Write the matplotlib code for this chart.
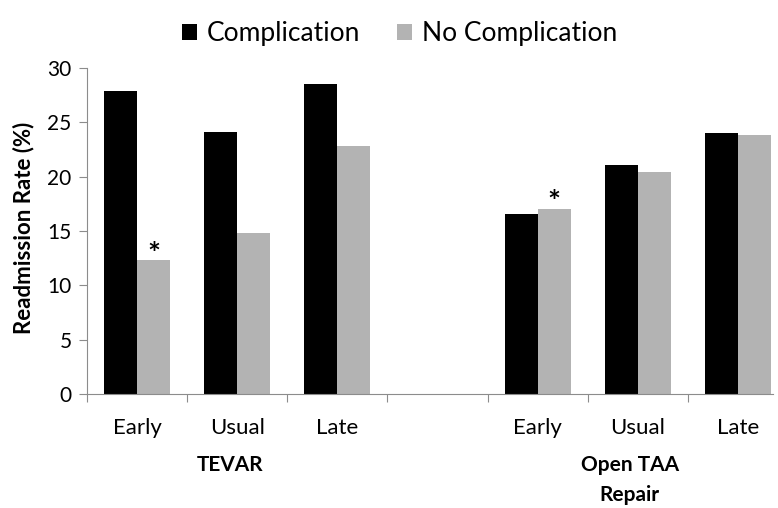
import numpy as np
import matplotlib.pyplot as plt

plt.rcParams['font.family'] = ['Lato', 'DejaVu Sans']

# data
timing = ['Early', 'Usual', 'Late', '', 'Early', 'Usual', 'Late']
groups = ['TEVAR', 'Open TAA\nRepair']
group_x = [0.93, 4.92]
complication = [27.9, 24.1, 28.5, np.nan, 16.6, 21.1, 24.0]
no_complication = [12.3, 14.8, 22.8, np.nan, 17.0, 20.4, 23.8]
starred = [0, 4]   # significant differences

x = np.arange(len(timing))
w = 0.33
axcol = '#8c8c8c'

fig = plt.figure(figsize=(7.78, 5.08), dpi=100)
ax = fig.add_axes([0.1118, 0.2244, 0.8818, 0.6416])

ax.bar(x - w / 2, complication, width=w, color='black', label='Complication')
ax.bar(x + w / 2, no_complication, width=w, color='#b3b3b3', label='No Complication')

for i in starred:
    ax.text(x[i] + w / 2, no_complication[i] - 0.75, '*', ha='center', va='bottom',
            fontsize=22, fontweight='bold')

ax.set_ylim(0, 30)
ax.set_yticks(range(0, 31, 5))
ax.set_xlim(-0.5, 6.35)

# ticks on category boundaries, labels in the middle
ax.set_xticks(np.arange(-0.5, 6.0, 1.0))
ax.set_xticklabels([])
ax.set_xticks(x, minor=True)
ax.set_xticklabels(timing, minor=True)
ax.tick_params(axis='x', which='minor', length=0, pad=17, labelsize=16)
ax.tick_params(axis='x', which='major', direction='out', length=6, color=axcol)
ax.tick_params(axis='y', direction='out', length=6, color=axcol, labelsize=15, pad=5)

for s in ['top', 'right']:
    ax.spines[s].set_visible(False)
for s in ['left', 'bottom']:
    ax.spines[s].set_color(axcol)

fig.text(24 / 778, 1 - 228 / 508, 'Readmission Rate (%)', rotation=90, ha='center',
         va='center', fontsize=16, fontweight='bold')

# group names under the timing labels
for gx, name in zip(group_x, groups):
    for k, line in enumerate(name.split('\n')):
        ax.text(gx, -7.06 - 2.8 * k, line, ha='center', va='baseline', fontsize=15,
                fontweight='bold', clip_on=False)

fig.legend(loc='upper center', bbox_to_anchor=(0.514, 1.005), ncol=2, frameon=False,
           fontsize=19, handlelength=0.57, handleheight=0.57, handletextpad=0.38,
           columnspacing=1.4)

fig.savefig('out.png', dpi=100)
